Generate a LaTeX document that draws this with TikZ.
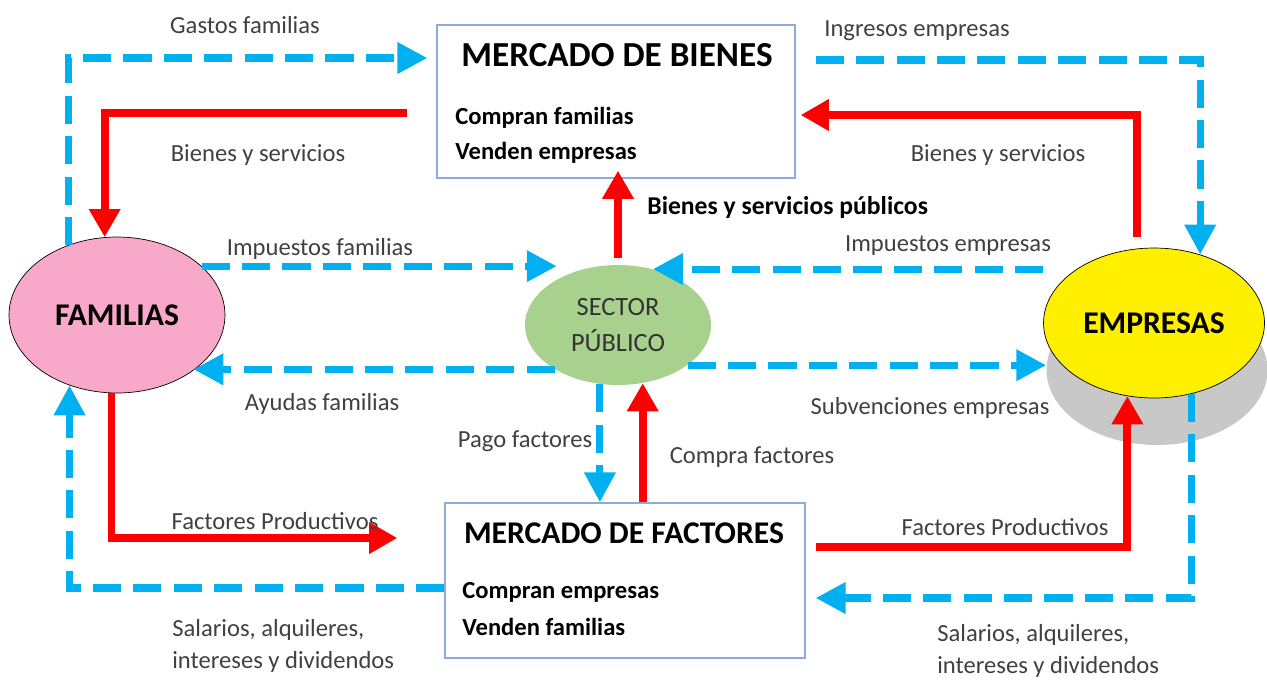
\documentclass[tikz,border=0pt]{standalone}
\usepackage{fontspec}
\setmainfont{Carlito}
\usepackage{xcolor}
\usepackage{tikz}
\usetikzlibrary{arrows.meta, calc, shapes.geometric}

\definecolor{azul}{HTML}{00B0F0}
\definecolor{rojo}{HTML}{FF0000}
\definecolor{rosa}{HTML}{F8A8C8}
\definecolor{verde}{HTML}{A9D18E}
\definecolor{amarillo}{HTML}{FFF000}
\definecolor{sombra}{HTML}{C8C8C8}
\definecolor{marco}{HTML}{8FAADC}
\definecolor{gris}{HTML}{404040}

\begin{document}
\begin{tikzpicture}[
  x=0.02cm, y=-0.02cm,
  mercado/.style={rectangle,draw=marco,line width=0.8pt,fill=white,minimum width=7.16cm,minimum height=3.06cm},
  agente/.style={ellipse,inner sep=0pt},
  dinero/.style={draw=azul,line width=4pt,dash pattern=on 16pt off 7pt,-{Triangle[length=17pt,width=17pt]}},
  real/.style={draw=rojo,line width=4.5pt,-{Triangle[length=16pt,width=17pt]}},
  etiqueta/.style={text=gris,inner sep=0pt,font=\fontsize{14}{18}\selectfont},
  titulo/.style={inner sep=0pt,font=\bfseries\fontsize{20}{24}\selectfont},
  linea/.style={anchor=west,inner sep=0pt,font=\bfseries\fontsize{14}{18}\selectfont}
]
\useasboundingbox (0,0) rectangle (1267,680);

% Mercados
\node[mercado] (bienes) at (616,101.5) {};
\node[titulo] (tbienes) at (617,55) {MERCADO DE BIENES};
\node[linea] (cfam) at (455,118) {Compran familias};
\node[linea] (vemp) at (455,153) {Venden empresas};

\node[mercado,minimum width=7.2cm,minimum height=3.1cm] (factores) at (625,580.5) {};
\node[titulo,font=\bfseries\fontsize{18}{22}\selectfont] (tfactores) at (624,533) {MERCADO DE FACTORES};
\node[linea] (cemp) at (462,592) {Compran empresas};
\node[linea] (vfam) at (462,627) {Venden familias};

% Agentes
\node[agente,fill=sombra,minimum width=4.42cm,minimum height=3cm] (somb) at (1157,370) {};
\node[agente,draw=black,thin,fill=amarillo,minimum width=4.42cm,minimum height=3cm,
  font=\bfseries\fontsize{18}{22}\selectfont] (emp) at (1154,323) {EMPRESAS};
\node[agente,draw=black,thin,fill=rosa,minimum width=4.32cm,minimum height=3.12cm,
  font=\bfseries\fontsize{18}{22}\selectfont] (fam) at (117,315) {FAMILIAS};
\node[agente,fill=verde,minimum width=3.72cm,minimum height=2.4cm,align=center,
  text=gris!80!black,font=\fontsize{15}{21}\selectfont] (sec) at (618,325) {SECTOR\\PÚBLICO};

% Flujos monetarios
\draw[dinero] (fam.125) |- ($(bienes.west)+(-9,-43.5)$);
\draw[dinero] ($(bienes.east)+(20,-41.5)$) -| (emp.56);
\draw[dinero] (fam.30) -- ($(fam.30 -| sec.west)+(32,0)$);
\draw[dinero] (emp.west |- sec.58) -- (sec.58);
\draw[dinero] (sec.215) -- (sec.215 -| fam.-36);
\draw[dinero] (sec.-30) -- (sec.-30 -| somb.west);
\draw[dinero] (sec.253) -- (sec.253 |- factores.north);
\draw[dinero] ($(factores.west)+(0,7.5)$) -| (fam.236);
\draw[dinero] (emp.-62) |- ($(factores.east)+(10,17.5)$);

% Flujos reales
\draw[real] ($(bienes.west)+(-29,11.5)$) -| (fam.99);
\draw[real] ($(emp.north)+(-17,-11)$) |- ($(bienes.east)+(5,13.5)$);
\draw[real] ($(sec.north)+(0,-7)$) -- ($(bienes.south)+(2,-8)$);
\draw[real] (factores.north -| sec.-67) -- (sec.-67);
\draw[real] (fam.-94) |- ($(factores.west)+(-47,-42.5)$);
\draw[real] ($(factores.east)+(10,-33.5)$) -| (emp.-110);

% Etiquetas
\node[etiqueta] (lgastos) at (245,25) {Gastos familias};
\node[etiqueta] (lbys1) at (258,155) {Bienes y servicios};
\node[etiqueta] (lingresos) at (917,31) {Ingresos empresas};
\node[etiqueta] (lbys2) at (998,155) {Bienes y servicios};
\node[linea,font=\bfseries\fontsize{14.6}{18}\selectfont] (lpublicos) at (647,208) {Bienes y servicios públicos};
\node[etiqueta] (limpfam) at (320,249) {Impuestos familias};
\node[etiqueta] (limpemp) at (948,246) {Impuestos empresas};
\node[etiqueta] (layudas) at (322,404) {Ayudas familias};
\node[etiqueta] (lsubv) at (930,408) {Subvenciones empresas};
\node[etiqueta] (lpago) at (525,441) {Pago factores};
\node[etiqueta] (lcompra) at (752,457) {Compra factores};
\node[etiqueta] (lfp1) at (275,521) {Factores Productivos};
\node[etiqueta] (lfp2) at (1005,527) {Factores Productivos};
\node[etiqueta,anchor=west,align=left] (lsal1) at (172,646) {Salarios, alquileres,\\intereses y dividendos};
\node[etiqueta,anchor=west,align=left] (lsal2) at (937,651) {Salarios, alquileres,\\intereses y dividendos};

\end{tikzpicture}
\end{document}
